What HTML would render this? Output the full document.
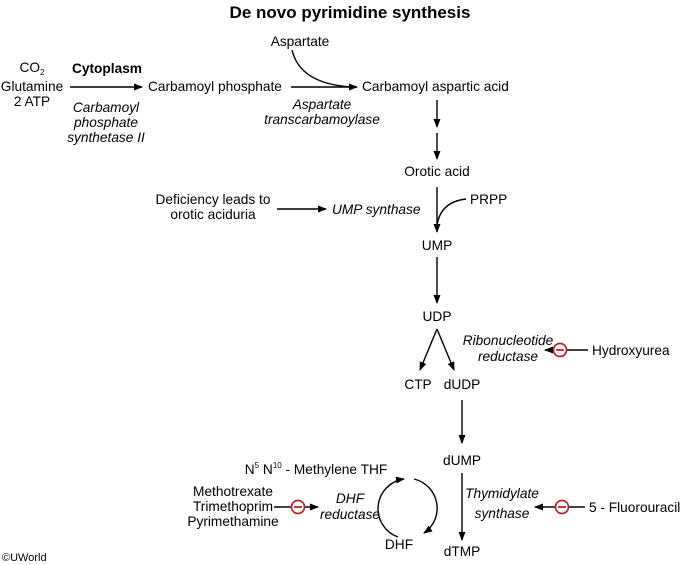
<!DOCTYPE html>
<html><head><meta charset="utf-8"><style>
html,body{margin:0;padding:0;background:#fff}
svg{display:block;font-family:"Liberation Sans",Arial,sans-serif;font-size:13.7px}
.i{font-style:italic}
</style></head><body>
<svg width="700" height="565" viewBox="0 0 700 565">
<defs><marker id="ah" markerWidth="9" markerHeight="9" refX="8" refY="4.5" orient="auto" markerUnits="userSpaceOnUse"><path d="M0,1 L9,4.5 L0,8 z" fill="#000"/></marker></defs>
<g stroke="#000" stroke-width="1.4" fill="none">
<line x1="70" y1="87" x2="142" y2="87" marker-end="url(#ah)"/>
<line x1="291" y1="87" x2="357" y2="87" marker-end="url(#ah)"/>
<path d="M292,50 Q300,84 352,87"/>
<line x1="437" y1="100" x2="437" y2="127" marker-end="url(#ah)"/>
<line x1="437" y1="133" x2="437" y2="159" marker-end="url(#ah)"/>
<line x1="437" y1="187" x2="437" y2="232" marker-end="url(#ah)"/>
<path d="M466,199 Q440,202 437,226"/>
<line x1="277" y1="209" x2="326" y2="209" marker-end="url(#ah)"/>
<line x1="437" y1="257" x2="437" y2="303" marker-end="url(#ah)"/>
<line x1="437" y1="329" x2="420" y2="370" marker-end="url(#ah)"/>
<line x1="437" y1="329" x2="454" y2="370" marker-end="url(#ah)"/>
<line x1="462" y1="400" x2="462" y2="443" marker-end="url(#ah)"/>
<line x1="462" y1="473" x2="462" y2="540" marker-end="url(#ah)"/>
<line x1="588" y1="350" x2="545" y2="350" marker-end="url(#ah)"/>
<line x1="585" y1="507" x2="535" y2="507" marker-end="url(#ah)"/>
<line x1="274" y1="507" x2="318" y2="507" marker-end="url(#ah)"/>
<path d="M414,479 A30,30 0 0 1 424,533" marker-end="url(#ah)"/>
<path d="M398,537 A30,30 0 0 1 404,479" marker-end="url(#ah)"/>
</g>
<g fill="#fff" stroke="#b0282e" stroke-width="1.7">
<circle cx="560" cy="350" r="6.5"/>
<circle cx="562" cy="507" r="6.5"/>
<circle cx="298" cy="507" r="6.5"/>
</g>
<g stroke="#b0282e" stroke-width="1.8"><line x1="556" y1="350" x2="564" y2="350"/><line x1="558" y1="507" x2="566" y2="507"/><line x1="294" y1="507" x2="302" y2="507"/></g>
<text x="350" y="18" text-anchor="middle" font-weight="bold" font-size="17">De novo pyrimidine synthesis</text>
<text x="300" y="46" text-anchor="middle">Aspartate</text>
<g text-anchor="middle"><text x="32" y="72">CO<tspan font-size="8" dy="3">2</tspan></text><text x="32" y="91">Glutamine</text><text x="32" y="106">2 ATP</text></g>
<text x="72" y="73" font-weight="bold">Cytoplasm</text>
<text x="148" y="91">Carbamoyl phosphate</text>
<text x="362" y="91">Carbamoyl aspartic acid</text>
<g class="i" text-anchor="middle"><text x="106" y="112">Carbamoyl</text><text x="106" y="127">phosphate</text><text x="106" y="142">synthetase II</text>
<text x="322" y="109">Aspartate</text><text x="322" y="124">transcarbamoylase</text></g>
<text x="437" y="176" text-anchor="middle">Orotic acid</text>
<text x="470" y="204">PRPP</text>
<g text-anchor="middle"><text x="213" y="204">Deficiency leads to</text><text x="213" y="219">orotic aciduria</text></g>
<text x="332" y="214" class="i">UMP synthase</text>
<text x="437" y="250" text-anchor="middle">UMP</text>
<text x="437" y="321" text-anchor="middle">UDP</text>
<text x="418" y="389" text-anchor="middle">CTP</text>
<text x="462" y="389" text-anchor="middle">dUDP</text>
<g class="i" text-anchor="middle"><text x="508" y="345">Ribonucleotide</text><text x="508" y="361">reductase</text></g>
<text x="592" y="355">Hydroxyurea</text>
<text x="462" y="465" text-anchor="middle">dUMP</text>
<text x="462" y="556" text-anchor="middle">dTMP</text>
<g class="i" text-anchor="middle"><text x="502" y="498">Thymidylate</text><text x="502" y="518">synthase</text></g>
<text x="589" y="512">5 - Fluorouracil</text>
<text x="316" y="474" text-anchor="middle">N<tspan font-size="8" dy="-6">5</tspan><tspan dy="6"> N</tspan><tspan font-size="8" dy="-6">10</tspan><tspan dy="6"> - Methylene THF</tspan></text>
<g text-anchor="middle"><text x="233" y="496">Methotrexate</text><text x="233" y="511">Trimethoprim</text><text x="233" y="526">Pyrimethamine</text></g>
<g class="i" text-anchor="middle"><text x="350" y="503">DHF</text><text x="350" y="519">reductase</text></g>
<text x="399" y="549" text-anchor="middle">DHF</text>
<text x="2" y="561" font-size="11">©UWorld</text>
</svg>
</body></html>
